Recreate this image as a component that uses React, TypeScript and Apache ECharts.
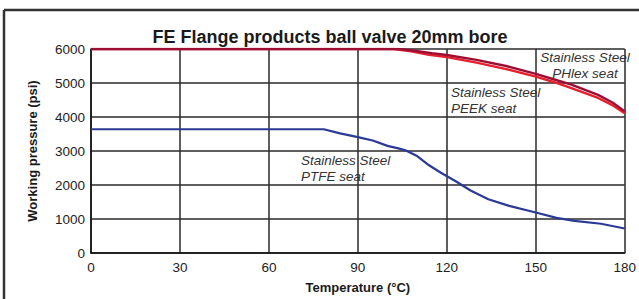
import React, { useEffect, useRef } from "react";
import * as echarts from "echarts";

const chartTitle = "FE Flange products ball valve 20mm bore";
const xAxisName = "Temperature (°C)";
const yAxisName = "Working pressure (psi)";

const phlexTemps = [0, 104, 109, 115, 120, 130, 140, 150, 156, 162, 171, 176, 180];
const phlexPressure = [6000, 6000, 5950, 5875, 5825, 5680, 5500, 5270, 5110, 4950, 4650, 4420, 4165];

const peekTemps = [0, 102, 108, 114, 120, 130, 140, 150, 156, 162, 171, 176, 180];
const peekPressure = [6000, 6000, 5930, 5830, 5760, 5600, 5410, 5190, 5030, 4850, 4560, 4340, 4110];

const ptfeTemps = [0, 78.5, 84, 90, 95, 100, 104, 106, 110, 114, 118, 123, 128, 134, 141, 150, 157, 163, 172, 180];
const ptfePressure = [3640, 3640, 3520, 3410, 3310, 3150, 3070, 3020, 2850, 2580, 2360, 2110, 1840, 1580, 1385, 1190, 1035, 945, 860, 720];

const xTicks = [0, 180, 30];
const yTicks = [0, 6000, 1000];

const labelPTFE = "Stainless Steel\nPTFE seat";
const labelPEEK = "Stainless Steel\nPEEK seat";
const labelPHlex = "Stainless Steel\nPHlex seat";

const zip = (xs: number[], ys: number[]) => xs.map((x, i) => [x, ys[i]]);

export default function App() {
  const ref = useRef<HTMLDivElement>(null);
  useEffect(() => {
    document.body.style.margin = "0";
    const chart = echarts.init(ref.current!, undefined, { renderer: "svg" });
    const font = "'Liberation Sans', Arial, sans-serif";
    chart.setOption({
      animation: false,
      backgroundColor: "#ffffff",
      title: {
        text: chartTitle,
        left: 325,
        top: 23,
        textAlign: "center",
        textStyle: { fontFamily: font, fontSize: 18, fontWeight: "bold", color: "#1a1a1a" },
      },
      grid: { left: 91, right: 11, top: 49, bottom: 45, containLabel: false },
      xAxis: {
        type: "value",
        min: xTicks[0],
        max: xTicks[1],
        interval: xTicks[2],
        name: xAxisName,
        nameLocation: "middle",
        nameGap: 28,
        nameTextStyle: { fontFamily: font, fontSize: 13, fontWeight: "bold", color: "#1a1a1a" },
        axisLine: { show: true, lineStyle: { color: "#111", width: 1.5 } },
        axisTick: { show: false },
        axisLabel: { fontFamily: font, fontSize: 13.5, color: "#222", margin: 7 },
        splitLine: { show: true, lineStyle: { color: "#2a2a2a", width: 1.5 } },
      },
      yAxis: {
        type: "value",
        min: yTicks[0],
        max: yTicks[1],
        interval: yTicks[2],
        name: yAxisName,
        nameLocation: "middle",
        nameGap: 52,
        nameTextStyle: { fontFamily: font, fontSize: 13, fontWeight: "bold", color: "#1a1a1a" },
        axisLine: { show: true, lineStyle: { color: "#111", width: 1.5 } },
        axisTick: { show: false },
        axisLabel: {
          fontFamily: font,
          fontSize: 13.5,
          color: "#222",
          margin: 6,
          formatter: (v: number) => String(v),
        },
        splitLine: { show: true, lineStyle: { color: "#2a2a2a", width: 1.5 } },
      },
      series: [
        {
          type: "line",
          name: "PTFE",
          data: zip(ptfeTemps, ptfePressure),
          showSymbol: false,
          lineStyle: { color: "#2b3a95", width: 2.2 },
        },
        {
          type: "line",
          name: "PEEK",
          data: zip(peekTemps, peekPressure),
          showSymbol: false,
          lineStyle: { color: "#e8202e", width: 2.4 },
        },
        {
          type: "line",
          name: "PHlex",
          data: zip(phlexTemps, phlexPressure),
          showSymbol: false,
          lineStyle: { color: "#9c0f35", width: 2.4 },
        },
      ],
      graphic: [
        { type: "line", shape: { x1: 4, y1: 10, x2: 639, y2: 10 }, style: { stroke: "#333", lineWidth: 2.5 } },
        { type: "line", shape: { x1: 4, y1: 10, x2: 4, y2: 299 }, style: { stroke: "#333", lineWidth: 2.5 } },
        {
          type: "text",
          x: 301,
          y: 168.5,
          style: {
            text: labelPTFE,
            fontFamily: font,
            fontSize: 13.5,
            fontStyle: "italic",
            fill: "#333",
            lineHeight: 16.5,
            textAlign: "left",
            textVerticalAlign: "middle",
          },
        },
        {
          type: "text",
          x: 451,
          y: 100,
          style: {
            text: labelPEEK,
            fontFamily: font,
            fontSize: 13.5,
            fontStyle: "italic",
            fill: "#333",
            lineHeight: 16,
            textAlign: "left",
            textVerticalAlign: "middle",
          },
        },
        {
          type: "text",
          x: 585,
          y: 65,
          style: {
            text: labelPHlex,
            fontFamily: font,
            fontSize: 13.5,
            fontStyle: "italic",
            fill: "#333",
            lineHeight: 16,
            textAlign: "center",
            textVerticalAlign: "middle",
          },
        },
      ],
    });
    return () => chart.dispose();
  }, []);
  return <div ref={ref} style={{ width: 639, height: 299 }} />;
}
